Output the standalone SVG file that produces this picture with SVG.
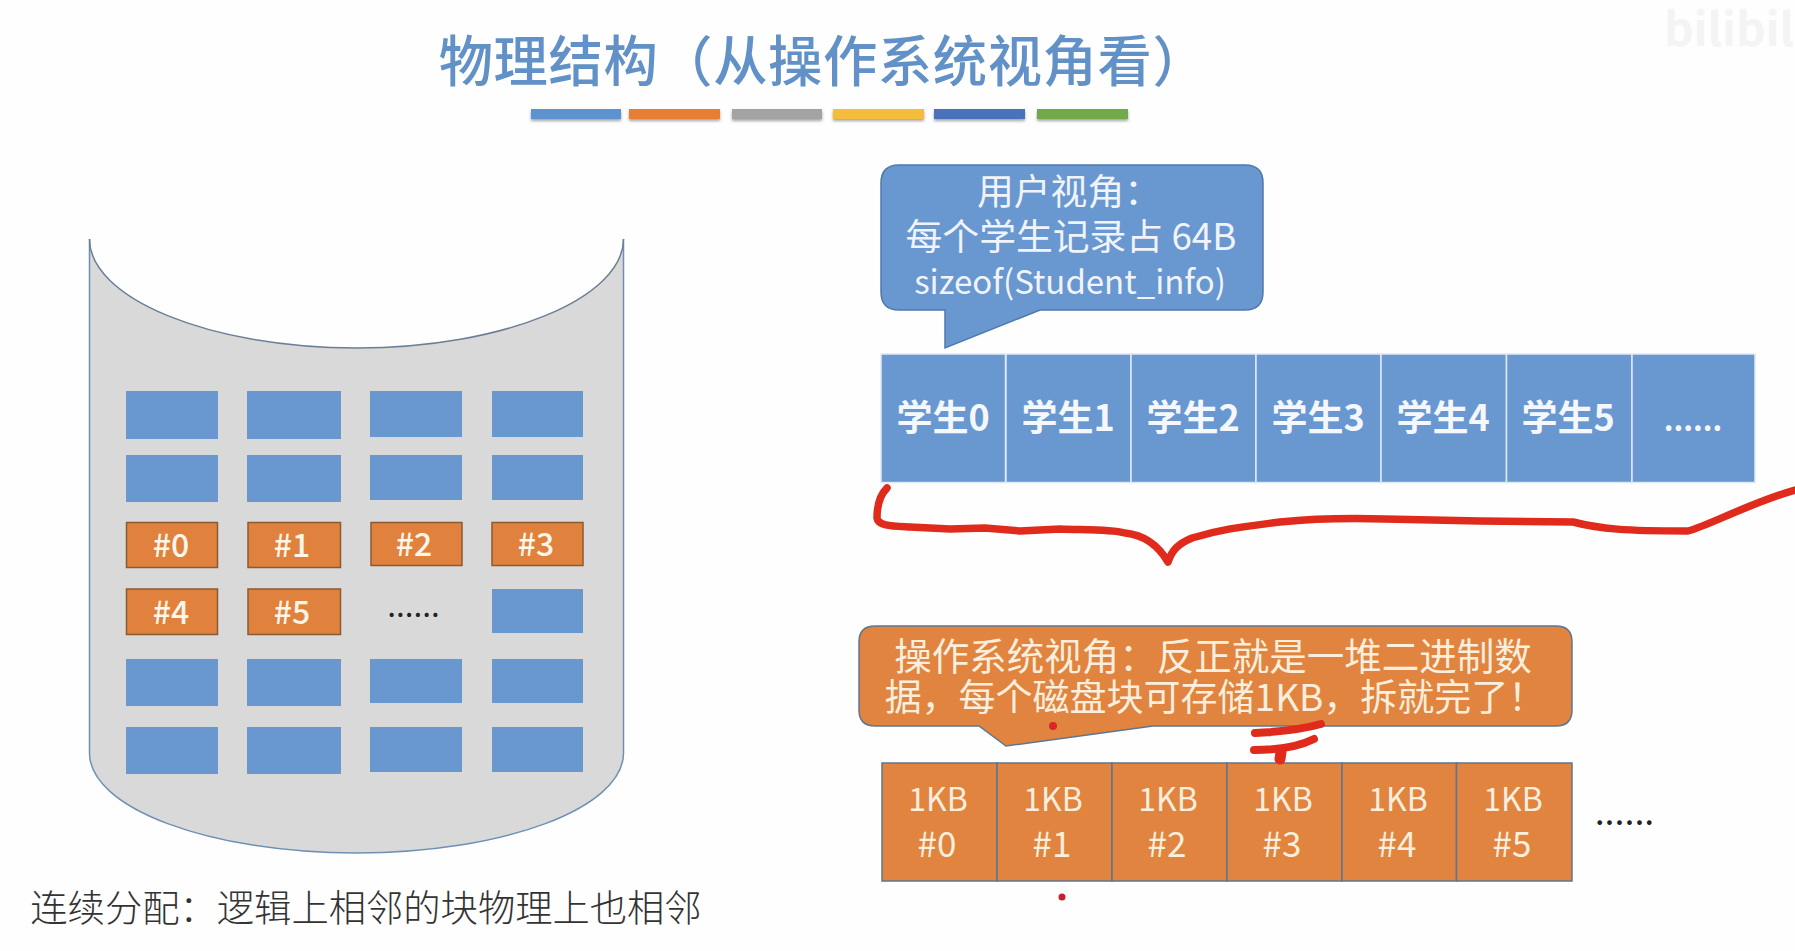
<svg xmlns="http://www.w3.org/2000/svg" width="1795" height="951" viewBox="0 0 1795 951">
<style>
text{font-family:"Noto Sans CJK SC","Noto Sans",sans-serif;text-anchor:middle}
.b{fill:#6997d0}
.o{fill:#e0823d;stroke:#8a5a30;stroke-width:1.5}
.w{fill:#fdf6ea;font-size:32px;font-weight:500}
.s{fill:#6997d0;stroke:#dfe9f5;stroke-width:1.5}
.st{fill:#f4f8fc;font-size:36px;font-weight:700}
.c{fill:#e0843f;stroke:#5f7690;stroke-width:1.5}
.ct{fill:#fbeedd;font-size:35px}
.kb{fill:#fbeedd;font-size:32px}
.bt{fill:#f0f4fa;font-size:36.8px}
.ot{fill:#fbeedd}
.red{fill:none;stroke:#df2a1c;stroke-linecap:round;stroke-linejoin:round}
.bar{stroke:none}
</style>
<defs><filter id="sh" x="-5%" y="-30%" width="110%" height="190%"><feDropShadow dx="0" dy="2" stdDeviation="1.5" flood-color="#666" flood-opacity=".6"/></filter></defs>
<rect width="1795" height="951" fill="#fefefe"/>
<g id="watermark"><text x="1729" y="46" style="font-size:46px;font-weight:700" fill="#f4f4f4">bilibil</text></g>
<g id="title"><text x="823" y="81" style="font-size:54.3px;font-weight:500;letter-spacing:.6px" fill="#6191c6">物理结构（从操作系统视角看）</text>
<g filter="url(#sh)"><rect class="bar" x="531" y="109" width="90" height="10" fill="#5f93cf"/><rect class="bar" x="629" y="109" width="91" height="10" fill="#e67f35"/><rect class="bar" x="732" y="109" width="90" height="10" fill="#a3a3a3"/><rect class="bar" x="833" y="109" width="91" height="10" fill="#f4bd3c"/><rect class="bar" x="934" y="109" width="91" height="10" fill="#4a72bb"/><rect class="bar" x="1037" y="109" width="91" height="10" fill="#71aa4a"/></g></g>
<g id="disk">
<path d="M89.500 239V753C89.500 808 209 853 356.500 853S623.500 808 623.500 753V239C623.500 298 504 348 356.500 348S89.500 298 89.500 239Z" fill="#d9d9d9" stroke="none"/>
<path d="M89.500 239V753C89.500 808 209 853 356.500 853S623.500 808 623.500 753V239" fill="none" stroke="#6f90b5" stroke-width="1.500"/>
<path d="M89.500 239C89.500 298 209 348 356.500 348S623.500 298 623.500 239" fill="none" stroke="#6a7f96" stroke-width="1.500"/>
</g>
<g id="blocks">
<rect class="b" x="126" y="391" width="92" height="48"/><rect class="b" x="247" y="391" width="94" height="48"/><rect class="b" x="370" y="391" width="92" height="46"/><rect class="b" x="492" y="391" width="91" height="46"/>
<rect class="b" x="126" y="455" width="92" height="47"/><rect class="b" x="247" y="455" width="94" height="47"/><rect class="b" x="370" y="455" width="92" height="45"/><rect class="b" x="492" y="455" width="91" height="45"/>
<rect class="o" x="126.500" y="522.500" width="91" height="45"/><text class="w" x="171" y="557">#0</text>
<rect class="o" x="248" y="522.500" width="92.500" height="45"/><text class="w" x="292" y="557">#1</text>
<rect class="o" x="371" y="522.500" width="91" height="43"/><text class="w" x="414" y="556">#2</text>
<rect class="o" x="492" y="522.500" width="91" height="43"/><text class="w" x="536" y="556">#3</text>
<rect class="o" x="126.500" y="589" width="91" height="45.500"/><text class="w" x="171" y="624">#4</text>
<rect class="o" x="248" y="589" width="92.500" height="45.500"/><text class="w" x="292" y="624">#5</text>
<text x="414" y="617" style="font-size:26px;letter-spacing:1px;font-weight:500" fill="#222">......</text>
<rect class="b" x="492" y="589" width="91" height="44"/>
<rect class="b" x="126" y="659" width="92" height="47"/><rect class="b" x="247" y="659" width="94" height="47"/><rect class="b" x="370" y="659" width="92" height="44"/><rect class="b" x="492" y="659" width="91" height="44"/>
<rect class="b" x="126" y="727" width="92" height="47"/><rect class="b" x="247" y="727" width="94" height="47"/><rect class="b" x="370" y="727" width="92" height="45"/><rect class="b" x="492" y="727" width="91" height="45"/>
</g>
<g id="caption"><text x="366" y="922" style="font-size:37.300px;font-weight:300" fill="#333">连续分配：逻辑上相邻的块物理上也相邻</text></g>
<g id="user-bubble"><path d="M899 165H1245Q1263 165 1263 183V292Q1263 310 1245 310H1040L945 348V310H899Q881 310 881 292V183Q881 165 899 165Z" fill="#6997d0" stroke="#4f79ad" stroke-width="1.500"/>
<text class="bt" x="1069" y="205">用户视角：</text><text class="bt" x="1071" y="250">每个学生记录占 64B</text><text x="1070" y="294" style="font-size:33px;fill:#f0f4fa">sizeof(Student_info)</text></g>
<g id="students">
<rect class="s" x="881" y="354" width="124.500" height="128.500"/><text class="st" x="943" y="431">学生0</text>
<rect class="s" x="1006" y="354" width="125" height="128.500"/><text class="st" x="1068" y="431">学生1</text>
<rect class="s" x="1131" y="354" width="125" height="128.500"/><text class="st" x="1193" y="431">学生2</text>
<rect class="s" x="1256" y="354" width="125" height="128.500"/><text class="st" x="1318" y="431">学生3</text>
<rect class="s" x="1381" y="354" width="125.500" height="128.500"/><text class="st" x="1443" y="431">学生4</text>
<rect class="s" x="1506.500" y="354" width="125.500" height="128.500"/><text class="st" x="1568" y="431">学生5</text>
<rect class="s" x="1632" y="354" width="123" height="128.500"/><text class="st" x="1693" y="431" style="font-size:30px">......</text>
</g>
<g id="os-bubble"><path d="M875 626H1556Q1572 626 1572 642V710Q1572 726 1556 726H1153L1006 746L979 726H875Q859 726 859 710V642Q859 626 875 626Z" fill="#e0843f" stroke="#5f7690" stroke-width="1.500"/>
<text class="ot" x="1213" y="670" style="font-size:37.5px">操作系统视角：反正就是一堆二进制数</text><text class="ot" x="1215" y="711" style="font-size:37px">据，每个磁盘块可存储1KB，拆就完了！</text></g>
<g id="disk-blocks">
<rect class="c" x="882" y="763" width="115" height="118"/><text class="kb" x="938" y="811">1KB</text><text class="ct" x="937" y="857">#0</text>
<rect class="c" x="997" y="763" width="115" height="118"/><text class="kb" x="1053" y="811">1KB</text><text class="ct" x="1052" y="857">#1</text>
<rect class="c" x="1112" y="763" width="115" height="118"/><text class="kb" x="1168" y="811">1KB</text><text class="ct" x="1167" y="857">#2</text>
<rect class="c" x="1227" y="763" width="115" height="118"/><text class="kb" x="1283" y="811">1KB</text><text class="ct" x="1282" y="857">#3</text>
<rect class="c" x="1342" y="763" width="114.500" height="118"/><text class="kb" x="1398" y="811">1KB</text><text class="ct" x="1397" y="857">#4</text>
<rect class="c" x="1456.500" y="763" width="115.500" height="118"/><text class="kb" x="1513" y="811">1KB</text><text class="ct" x="1512" y="857">#5</text>
<text x="1625" y="825" style="font-size:30px;letter-spacing:1px;font-weight:500" fill="#222">......</text>
</g>
<g id="annotations">
<path class="red" stroke-width="7.500" d="M887 488C880 495 877 505 877 518C878 526 892 526 910 527L950 529L985 528L1020 531L1060 529C1085 530 1110 529 1125 533C1145 535 1158 545 1168 562C1172 550 1178 544 1192 538C1225 528 1250 526 1280 522C1320 518 1350 518 1385 519L1480 521L1573 522C1600 529 1625 531 1688 531C1710 525 1750 503 1795 490"/>
<path class="red" stroke-width="8" d="M1255 733C1275 732 1300 730 1321 724M1254 750C1275 750 1298 747 1314 739"/>
<path class="red" stroke-width="11" d="M1281 752L1280 759"/>
<circle cx="1053" cy="726" r="4" fill="#d8262a"/><circle cx="1062" cy="897" r="3.500" fill="#c8202a"/>
</g>
</svg>
